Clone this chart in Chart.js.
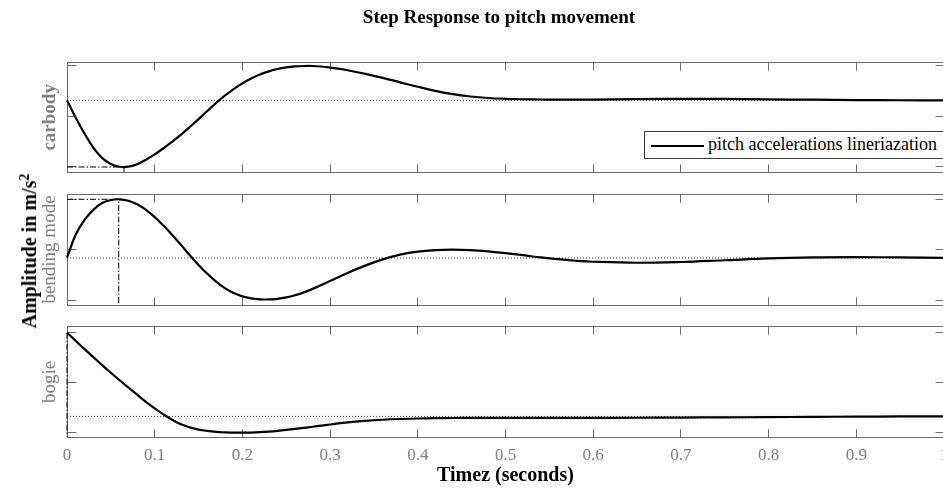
<!DOCTYPE html>
<html>
<head>
<meta charset="utf-8">
<title>Step Response to pitch movement</title>
<script src="https://cdn.jsdelivr.net/npm/chart.js@4.4.1/dist/chart.umd.min.js"></script>
<style>
  html, body { margin: 0; padding: 0; background: #fff; }
  body {
    position: relative; width: 943px; height: 490px; overflow: hidden;
    font-family: "Liberation Serif", "Times New Roman", serif;
  }
  canvas { position: absolute; left: 0; }
  #title {
    position: absolute; left: 0; top: 7px; width: 998px; text-align: center;
    font-weight: bold; font-size: 19px; line-height: 19px; white-space: nowrap; color: #000;
  }
  #ylabel {
    position: absolute; left: 29px; top: 251px;
    transform: translate(-50%, -50%) rotate(-90deg);
    font-weight: bold; font-size: 20px; line-height: 20px; white-space: nowrap; color: #000;
  }
  #ylabel sup { font-size: 14px; line-height: 0; vertical-align: 0.5em; }
  #legend {
    position: absolute; left: 644px; top: 131px; width: 330px; height: 28px;
    box-sizing: border-box; border: 1px solid #3a3a3a; background: #fff;
  }
  #legend .swatch { position: absolute; left: 6px; top: 13px; width: 53px; height: 2px; background: #000; }
  #legend .text {
    position: absolute; left: 63px; top: 3px; font-size: 18px; line-height: 18px;
    white-space: nowrap; color: #000;
  }
</style>
</head>
<body>
<canvas id="carbodyPanel" width="960" height="182" style="top:0px"></canvas>
<canvas id="bendingPanel" width="960" height="133" style="top:182px"></canvas>
<canvas id="bogiePanel" width="960" height="175" style="top:315px"></canvas>
<div id="title">Step Response to pitch movement</div>
<div id="ylabel">Amplitude in m/s<sup>2</sup></div>
<div id="legend"><span class="swatch"></span><span class="text">pitch accelerations lineriazation</span></div>

<script>
// Sample times of the step responses (s)
const timeSec = [
  0, 0.01, 0.02, 0.03, 0.04, 0.05, 0.06, 0.07, 0.08, 0.09, 0.10,
  0.11, 0.12, 0.13, 0.14, 0.15, 0.16, 0.17, 0.18, 0.19, 0.20,
  0.21, 0.22, 0.23, 0.24, 0.25, 0.26, 0.27, 0.28, 0.29, 0.30,
  0.32, 0.34, 0.36, 0.38, 0.40, 0.42, 0.44, 0.46, 0.48, 0.50, 0.52, 0.54, 0.56, 0.58, 0.60,
  0.65, 0.70, 0.75, 0.80, 0.85, 0.90, 0.95, 1.00];

// Pitch acceleration responses (normalised amplitude) for each body
const carbodyAcc = [
  0.32, -0.025, -0.34, -0.615, -0.82, -0.94, -0.995, -0.994, -0.944, -0.856, -0.749,
  -0.629, -0.499, -0.359, -0.209, -0.053, 0.108, 0.267, 0.413, 0.543, 0.656,
  0.752, 0.831, 0.893, 0.941, 0.974, 0.992, 1.0, 1.0, 0.99, 0.968,
  0.915, 0.845, 0.765, 0.675, 0.588, 0.508, 0.442, 0.396, 0.366, 0.35, 0.341, 0.336, 0.333, 0.333, 0.335,
  0.343, 0.35, 0.348, 0.34, 0.332, 0.326, 0.322, 0.32];
const bendingAcc = [
  -0.16, 0.30, 0.59, 0.79, 0.925, 0.985, 1.0, 0.972, 0.90, 0.79, 0.647,
  0.478, 0.291, 0.091, -0.111, -0.303, -0.48, -0.636, -0.764, -0.861, -0.928,
  -0.967, -0.986, -0.989, -0.977, -0.949, -0.906, -0.848, -0.779, -0.701, -0.62,
  -0.462, -0.317, -0.193, -0.098, -0.038, -0.008, 0.0, -0.01, -0.035, -0.07, -0.11, -0.155, -0.19, -0.22, -0.24,
  -0.26, -0.245, -0.21, -0.175, -0.155, -0.15, -0.155, -0.165];
const bogieAcc = [
  1.0, 0.835, 0.67, 0.51, 0.35, 0.195, 0.045, -0.10, -0.245, -0.39, -0.52,
  -0.64, -0.75, -0.84, -0.90, -0.945, -0.972, -0.99, -1.0, -1.007, -1.008,
  -1.005, -0.997, -0.985, -0.97, -0.952, -0.932, -0.91, -0.888, -0.865, -0.843,
  -0.80, -0.77, -0.748, -0.733, -0.723, -0.717, -0.713, -0.711, -0.71, -0.71, -0.71, -0.71, -0.71, -0.71, -0.71,
  -0.708, -0.704, -0.70, -0.695, -0.69, -0.686, -0.682, -0.68];

// Steady-state values and peak responses per panel
const steadyState = [0.32, -0.165, -0.68];
const peakTime = [0.065, 0.059, 0];
const peakValue = [-1.00, 1.00, 1.00];

// Panel names and axis limits
const panelNames = ['carbody', 'bending mode', 'bogie'];
const yMin = [-1.099, -1.099, -1.094];
const yMax = [1.065, 1.105, 1.12];

// Tick positions and labels
const ampTicks = [-1, 0, 1];
const timeTicks = [0, 0.1, 0.2, 0.3, 0.4, 0.5, 0.6, 0.7, 0.8, 0.9, 1];
const timeTickLabels = ['0', '0.1', '0.2', '0.3', '0.4', '0.5', '0.6', '0.7', '0.8', '0.9', '1'];

const panelSeries = [carbodyAcc, bendingAcc, bogieAcc];

const AXIS_GRAY = '#6b6b6b';
const LABEL_GRAY = '#808080';
const SERIF = '"Liberation Serif", "Times New Roman", serif';

// Boxed axes with inward tick marks on all four sides
const boxTicks = {
  id: 'boxTicks',
  beforeDatasetsDraw(chart) {
    const { ctx, chartArea: a, scales: { x, y } } = chart;
    const L = Math.floor(a.left) + 0.5, R = Math.floor(a.right) + 0.5;
    const T = Math.floor(a.top) + 0.5, B = Math.floor(a.bottom) + 0.5;
    ctx.save();
    ctx.strokeStyle = AXIS_GRAY;
    ctx.lineWidth = 1;
    ctx.strokeRect(L, T, R - L, B - T);
    ctx.beginPath();
    timeTicks.forEach(t => {
      const px = Math.floor(x.getPixelForValue(t)) + 0.5;
      ctx.moveTo(px, T); ctx.lineTo(px, T + 8);
      ctx.moveTo(px, B); ctx.lineTo(px, B - 8);
    });
    ampTicks.forEach(v => {
      const py = Math.floor(y.getPixelForValue(v)) + 0.5;
      ctx.moveTo(L, py); ctx.lineTo(L + 9, py);
      ctx.moveTo(R, py); ctx.lineTo(R - 9, py);
    });
    ctx.stroke();
    ctx.restore();
  }
};

function makePanel(idx, canvasId, padTop, padBottom, withTimeAxis) {
  const series = panelSeries[idx];
  const xScale = {
    type: 'linear', min: 0, max: 1, display: withTimeAxis,
    afterBuildTicks: s => { s.ticks = timeTicks.map(v => ({ value: v })); },
    grid: { display: false, drawTicks: false, tickLength: 0 },
    border: { display: false },
    ticks: {
      color: LABEL_GRAY, font: { family: SERIF, size: 17 }, padding: 8,
      maxRotation: 0, autoSkip: false,
      callback: (v, i) => timeTickLabels[i]
    },
    title: {
      display: withTimeAxis, text: 'Timez (seconds)', color: '#000',
      font: { family: SERIF, size: 20, weight: 'bold' }, padding: { top: 0, bottom: 2 }
    }
  };
  if (withTimeAxis) xScale.afterFit = s => { s.height = 53; };

  new Chart(document.getElementById(canvasId), {
    type: 'line',
    data: {
      datasets: [
        {
          data: timeSec.map((t, k) => ({ x: t, y: series[k] })),
          borderColor: '#000', borderWidth: 2.2, pointRadius: 0,
          tension: 0.4, borderJoinStyle: 'round', clip: 4, order: 0
        },
        {
          data: [{ x: 0, y: steadyState[idx] }, { x: 1, y: steadyState[idx] }],
          borderColor: '#333', borderWidth: 1, borderDash: [1, 2], pointRadius: 0, clip: 4, order: 1
        },
        {
          data: [
            { x: 0, y: peakValue[idx] },
            { x: peakTime[idx], y: peakValue[idx] },
            { x: peakTime[idx], y: yMin[idx] }
          ],
          borderColor: '#000', borderWidth: 1, borderDash: [6, 2, 1.5, 2], pointRadius: 0,
          tension: 0, clip: 4, order: 1
        }
      ]
    },
    options: {
      responsive: false, animation: false, events: [],
      layout: { padding: { top: padTop, bottom: padBottom, left: 0, right: 16 } },
      plugins: { legend: { display: false }, tooltip: { enabled: false } },
      scales: {
        x: xScale,
        y: {
          type: 'linear', min: yMin[idx], max: yMax[idx],
          afterBuildTicks: s => { s.ticks = ampTicks.map(v => ({ value: v })); },
          afterFit: s => { s.width = 67; },
          grid: { display: false, drawTicks: false },
          border: { display: false },
          ticks: { display: false },
          title: {
            display: true, text: panelNames[idx], color: LABEL_GRAY,
            font: { family: SERIF, size: 19, weight: idx === 0 ? 'bold' : 'normal' },
            padding: { top: 39, bottom: 0 }
          }
        }
      }
    },
    plugins: [boxTicks]
  });
}

makePanel(0, 'carbodyPanel', 62.7, 10, false);
makePanel(1, 'bendingPanel', 12, 10, false);
makePanel(2, 'bogiePanel', 11.7, 0, true);
</script>
</body>
</html>
